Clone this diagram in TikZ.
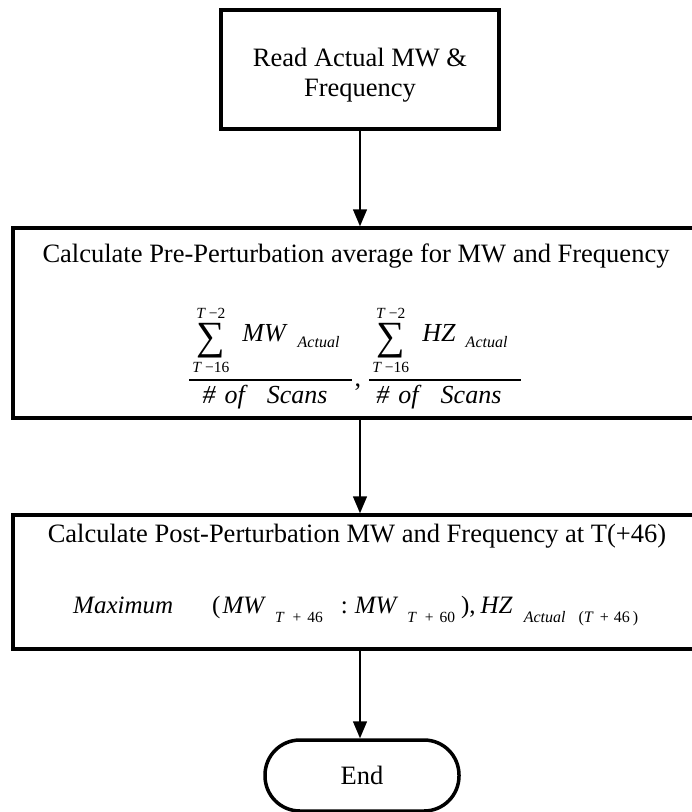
\documentclass[tikz,border=0pt]{standalone}
\usepackage{amsmath}
\usepackage{fontspec}
\setmainfont{Liberation Serif}
\usetikzlibrary{arrows.meta}
\newcommand{\fs}[1]{\fontsize{#1}{#1}\selectfont}
\newcommand{\bigsumop}{\mathop{\raisebox{-8pt}{\fs{40}∑}}\limits}
\newcommand{\limT}[1]{\mbox{\fs{15.5}\textit{T}\hspace{3pt}−#1}}
\newcommand{\numer}[1]{\hspace{3pt}\bigsumop_{\limT{16}}^{\limT{2}}\hspace{9pt}\mbox{\fs{26}\textit{#1}}\hspace{10pt}\raisebox{-6pt}{\fs{16}\textit{Actual}}\hspace{13pt}}
\newcommand{\denom}{\mbox{\fs{26}\textit{\#\hspace{9pt}of\hspace{22pt}Scans}}\hspace{12pt}}
\newcommand{\subT}[1]{\raisebox{-9pt}{\fs{15.5}\textit{T}\hspace{8pt}+\hspace{6pt}#1}}
\tikzset{
  box/.style={draw=black, line width=3.5pt, rectangle, inner sep=0pt},
  txt/.style={font=\fontsize{26.5}{30}\selectfont, inner sep=0pt, align=center},
  endbox/.style={draw=black, line width=3.5pt, rectangle, rounded corners=35pt, inner sep=0pt,
    minimum width=194pt, minimum height=71pt, font=\fontsize{26.5}{30}\selectfont},
  arr/.style={draw=black, line width=1.5pt, -{Triangle[width=14pt,length=17pt]}}
}
\begin{document}
\begin{tikzpicture}[x=1pt,y=-1pt]
\useasboundingbox (0,0) rectangle (692,812);
% boxes
\node[box, minimum width=278pt, minimum height=119pt] (b1) at (360,69.5) {};
\node[txt] (t1) at (360,75.5) {Read Actual MW \&\\Frequency};
\node[box, minimum width=694pt, minimum height=190pt] (b2) at (360,323) {};
\node[txt, anchor=base] (t2) at (356,262) {Calculate Pre-Perturbation average for MW and Frequency};
\node[inner sep=0pt, font=\fontsize{25}{30}\selectfont] (f2) at (355,357) {$\genfrac{}{}{1.3pt}{0}{\numer{MW}}{\denom}\hspace{1pt}\mbox{\fs{26},}\hspace{7pt}\genfrac{}{}{1.3pt}{0}{\numer{HZ}}{\denom}$};
\node[box, minimum width=694pt, minimum height=134pt] (b3) at (360,582) {};
\node[txt, anchor=base] (t3) at (357,542) {Calculate Post-Perturbation MW and Frequency at T(+46)};
\node[inner sep=0pt, anchor=base west, font=\fontsize{25}{30}\selectfont] (f3) at (73,613) {\textit{Maximum}\hspace{39pt}(\hspace{2pt}\textit{MW}\hspace{9pt}\subT{46}\hspace{18pt}:\hspace{7pt}\textit{MW}\hspace{9pt}\subT{60}\hspace{6pt}),\hspace{5pt}\textit{HZ}\hspace{11pt}\raisebox{-9pt}{\fs{16}\textit{Actual}\hspace{13pt}(\textit{T}\hspace{6pt}+\hspace{5pt}46\hspace{3pt})}};
\node[endbox] (e) at (362,775.5) {End};
% connectors
\draw[arr] (b1.south) -- (b2.north);
\draw[arr] (b2.south) -- (b3.north);
\draw[arr] (b3.south) -- (b3.south |- e.north);
\end{tikzpicture}
\end{document}
